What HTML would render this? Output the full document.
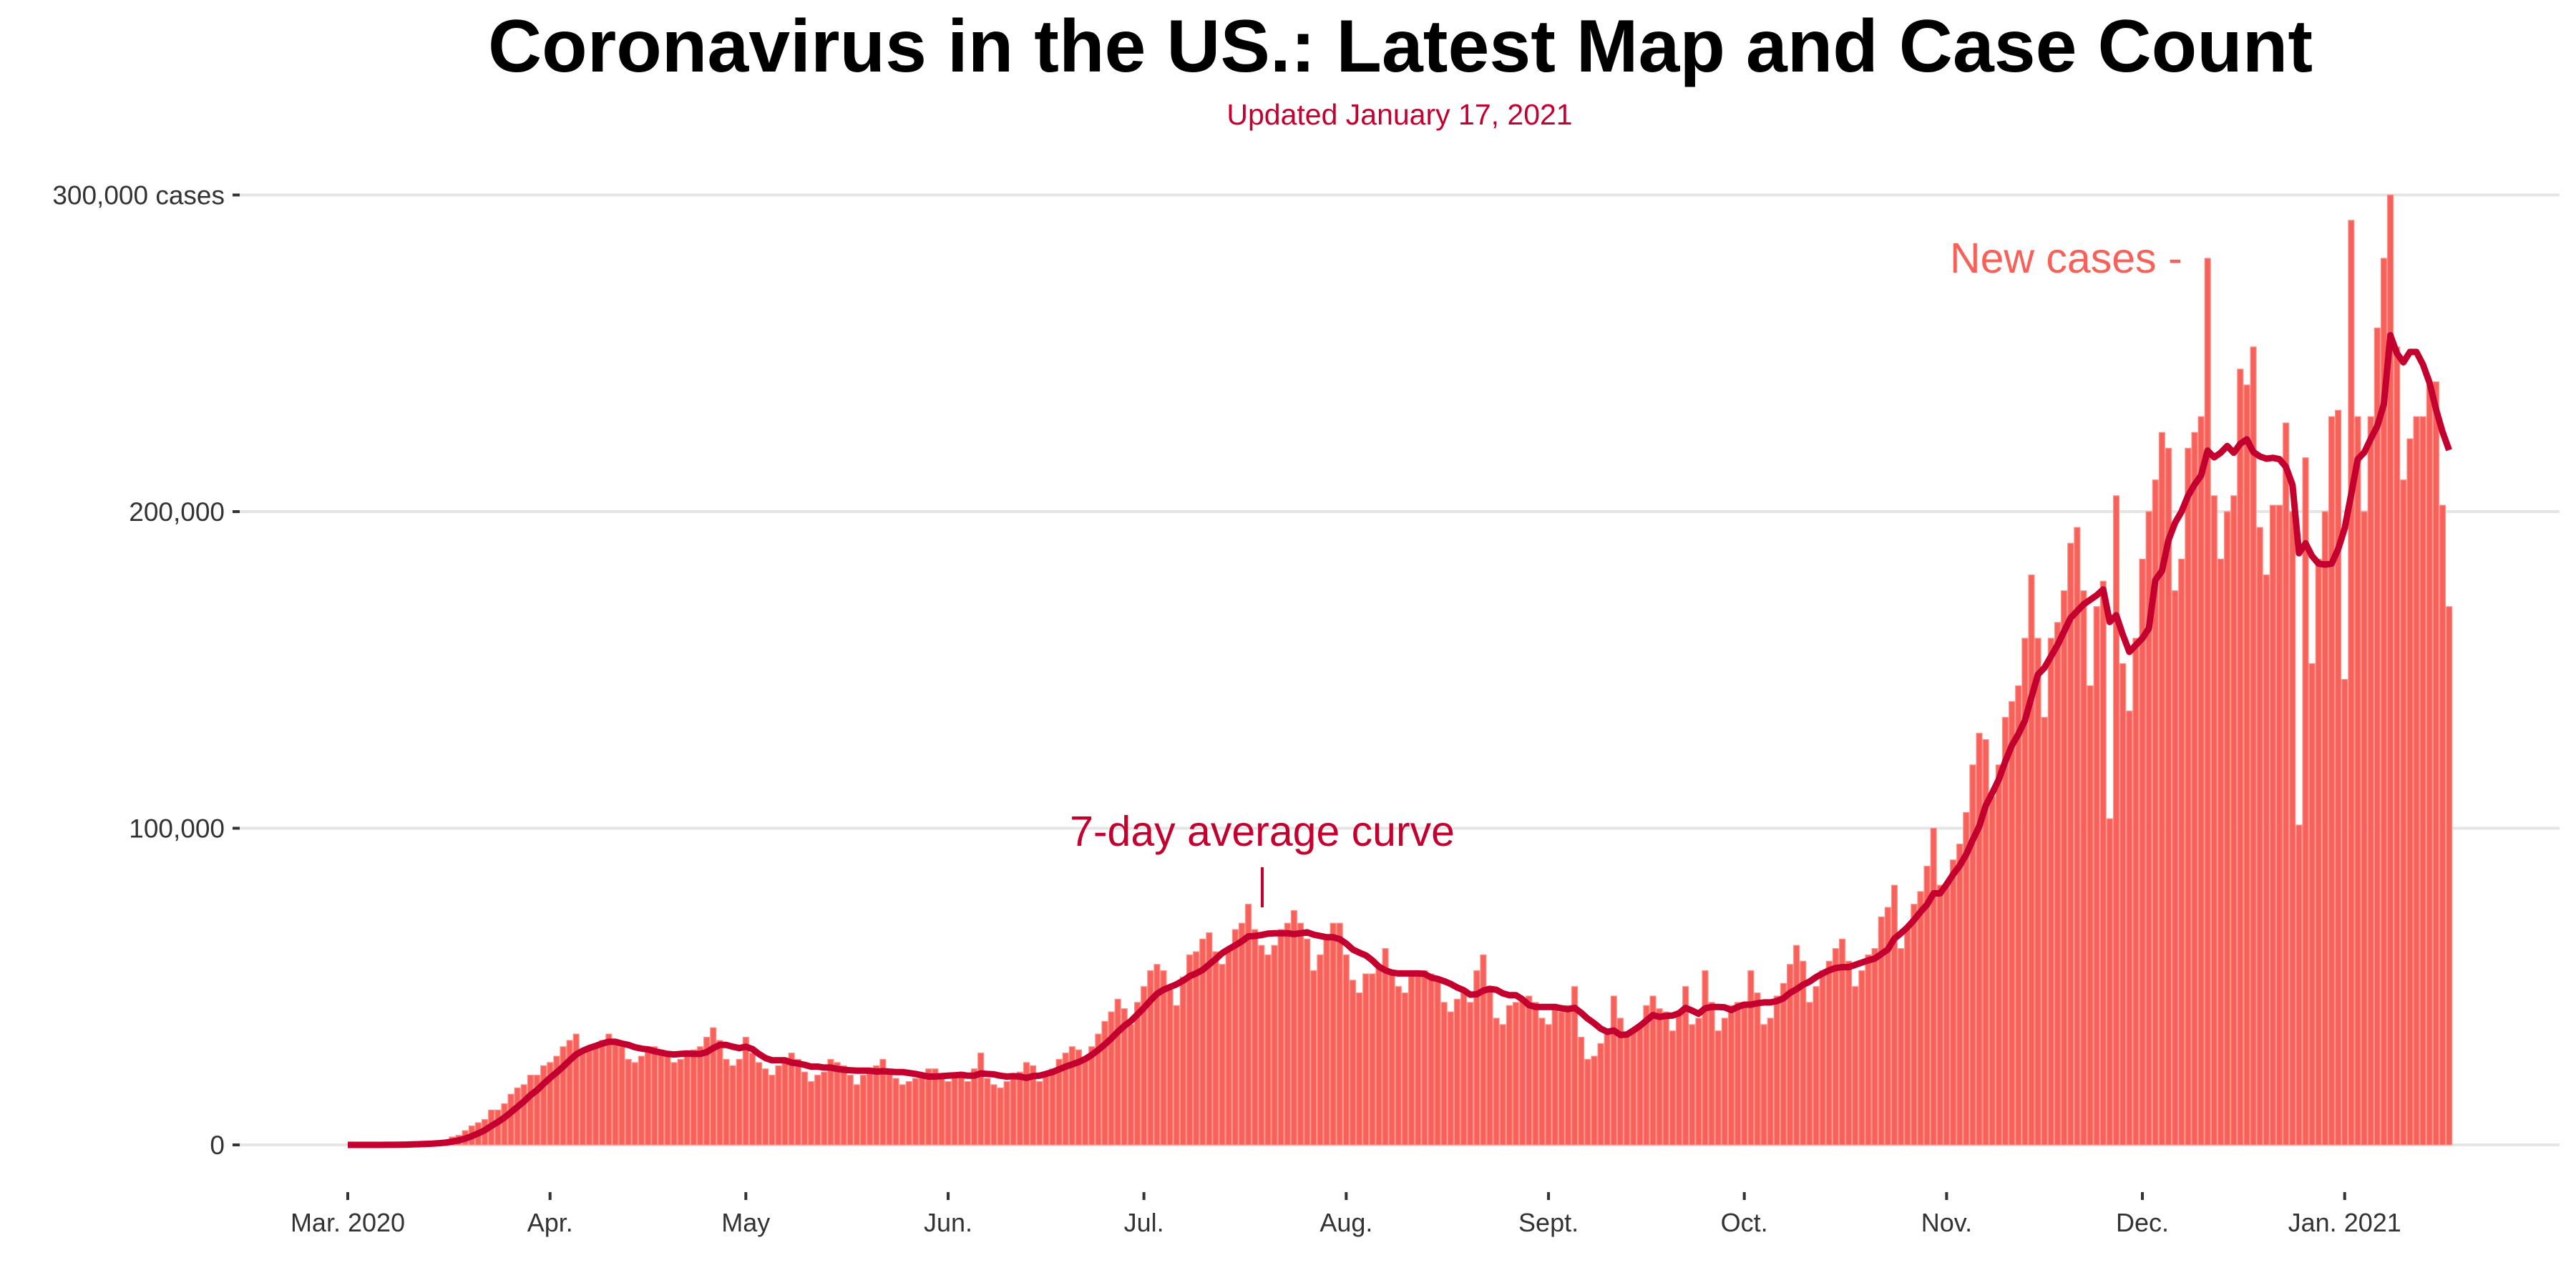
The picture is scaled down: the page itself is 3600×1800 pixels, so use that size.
<!DOCTYPE html>
<html><head><meta charset="utf-8"><style>
html,body{margin:0;padding:0;background:#fff;}
svg{display:block;font-family:"Liberation Sans",Arial,sans-serif;}
</style></head><body>
<svg id="chart" width="3600" height="1800" viewBox="0 0 3600 1800" xmlns="http://www.w3.org/2000/svg">
<rect width="3600" height="1800" fill="#fff"/>
<text x="1957" y="100" text-anchor="middle" font-size="104" font-weight="bold" fill="#000" textLength="2550" lengthAdjust="spacingAndGlyphs">Coronavirus in the US.: Latest Map and Case Count</text>
<text x="1956" y="174" text-anchor="middle" font-size="41" fill="#c4002f">Updated January 17, 2021</text>
<g id="grid"></g>
<g id="yaxis"></g>
<g id="xaxis"></g>
<g id="bars"></g>
<g id="avg"></g>
<text x="1764" y="1182" text-anchor="middle" font-size="59" fill="#c4002f">7-day average curve</text>
<line x1="1764" y1="1212" x2="1764" y2="1268" stroke="#c4002f" stroke-width="4"/>
<text x="2725" y="381" font-size="59" fill="#f8615a">New cases -</text>
</svg>
<script>
// Daily new cases (thousands), Mar 1 2020 – Jan 17 2021
const mar = [0,0,0,0,0,0,0.1,0.1,0.2,0.3,0.4,0.5,0.6,0.8,1,1.5,2.5,3,4.5,6,7,8,11,11,13,16,18,19,22,22,25];
const apr = [26,28,31,33,35,30,31,31,33,35,33,31,27,26,28,31,31,30,28,26,27,29,30,31,34,37,33,27,25,27];
const may = [34,29,26,24,22,25,27,29,27,23,20,22,23,27,26,25,22,19,22,23,25,27,24,21,19,20,21,22,24,24,22];
const jun = [20,21,22,20,24,29,21,19,18,20,21,23,26,25,20,22,24,27,29,31,30,27,31,35,39,42,46,43,38,45];
const jul = [50,55,57,55,49,44,53,60,61,65,67,61,57,62,68,70,76,68,63,60,63,68,70,74,70,65,55,60,65,70,70];
const aug = [60,52,48,54,54,56,62,55,50,48,54,54,55,54,52,45,42,46,48,45,55,60,49,40,38,44,45,46,47,45,40];
const sep = [38,44,42,44,50,34,27,28,32,35,47,40,35,36,38,44,47,43,42,36,41,50,38,40,55,45,36,40,44,45];
const oct = [45,55,48,38,40,47,51,57,63,58,45,50,55,58,62,65,58,50,55,60,62,72,75,82,62,68,76,80,88,100,82];
const nov = [82,90,95,105,120,130,128,110,120,135,140,145,160,180,160,135,160,165,175,190,195,175,145,170,178,103,205,152,137,160];
const dec = [185,200,210,225,220,175,185,220,225,230,280,205,185,200,205,245,240,252,195,180,202,202,228,200,101,217,152,185,200,230,232];
const jan = [147,292,230,200,230,258,280,300,252,210,223,230,230,240,241,202,170];
const yTicks = [0,100,200,300];
const yTickLabels = ["0","100,000","200,000","300,000 cases"];
const xTickDays = [0,31,61,92,122,153,184,214,245,275,306];
const xTickLabels = ["Mar. 2020","Apr.","May","Jun.","Jul.","Aug.","Sept.","Oct.","Nov.","Dec.","Jan. 2021"];

const daily = [].concat(mar,apr,may,jun,jul,aug,sep,oct,nov,dec,jan);
const NS = "http://www.w3.org/2000/svg";
const X0 = 486, STEP = 9.12, Y0 = 1600, YPER = 4.425; // px per thousand
const xS = d => X0 + d*STEP;
const yS = v => Y0 - v*YPER;
function mk(tag, attrs, parent){const e=document.createElementNS(NS,tag);for(const k in attrs)e.setAttribute(k,attrs[k]);parent.appendChild(e);return e;}

const grid=document.getElementById('grid'), ya=document.getElementById('yaxis'), xa=document.getElementById('xaxis');
yTicks.forEach((t,i)=>{
  const g=mk('line',{x1:335,x2:3577,y1:yS(t),y2:yS(t),stroke:'#e5e5e5','stroke-width':4},grid);
  
  
  const tk=mk('line',{x1:325,x2:335,y1:yS(t),y2:yS(t),stroke:'#333','stroke-width':4},ya);
  
  
  const tx=mk('text',{x:314,y:yS(t)+13,'text-anchor':'end','font-size':37,fill:'#333'},ya);
  tx.textContent=yTickLabels[i];
  
  
});
xTickDays.forEach((d,i)=>{
  const tk=mk('line',{x1:xS(d),x2:xS(d),y1:1666,y2:1677,stroke:'#333','stroke-width':4},xa);
  
  
  const tx=mk('text',{x:xS(d),y:1721,'text-anchor':'middle','font-size':36,fill:'#333'},xa);
  tx.textContent=xTickLabels[i];
  
  
});

const bars=document.getElementById('bars');
daily.forEach((v,d)=>{
  if(v<=0) return;
  const r=mk('rect',{x:xS(d)-STEP/2+0.6,y:yS(v),width:STEP-1.2,height:Y0-yS(v),fill:'#f8615a',stroke:'#fb8f89','stroke-width':1.2},bars);
  
  
});

// 7-day trailing average
const avgVals = daily.map((v,i)=>{const s=daily.slice(Math.max(0,i-6),i+1);return s.reduce((a,b)=>a+b,0)/s.length;});
const pts = avgVals.map((v,d)=>xS(d).toFixed(1)+','+yS(v).toFixed(1)).join(' ');
const pl=mk('polyline',{points:pts,fill:'none',stroke:'#c4002f','stroke-width':9,'stroke-linejoin':'round','stroke-linecap':'butt'},document.getElementById('avg'));


</script>
</body></html>
